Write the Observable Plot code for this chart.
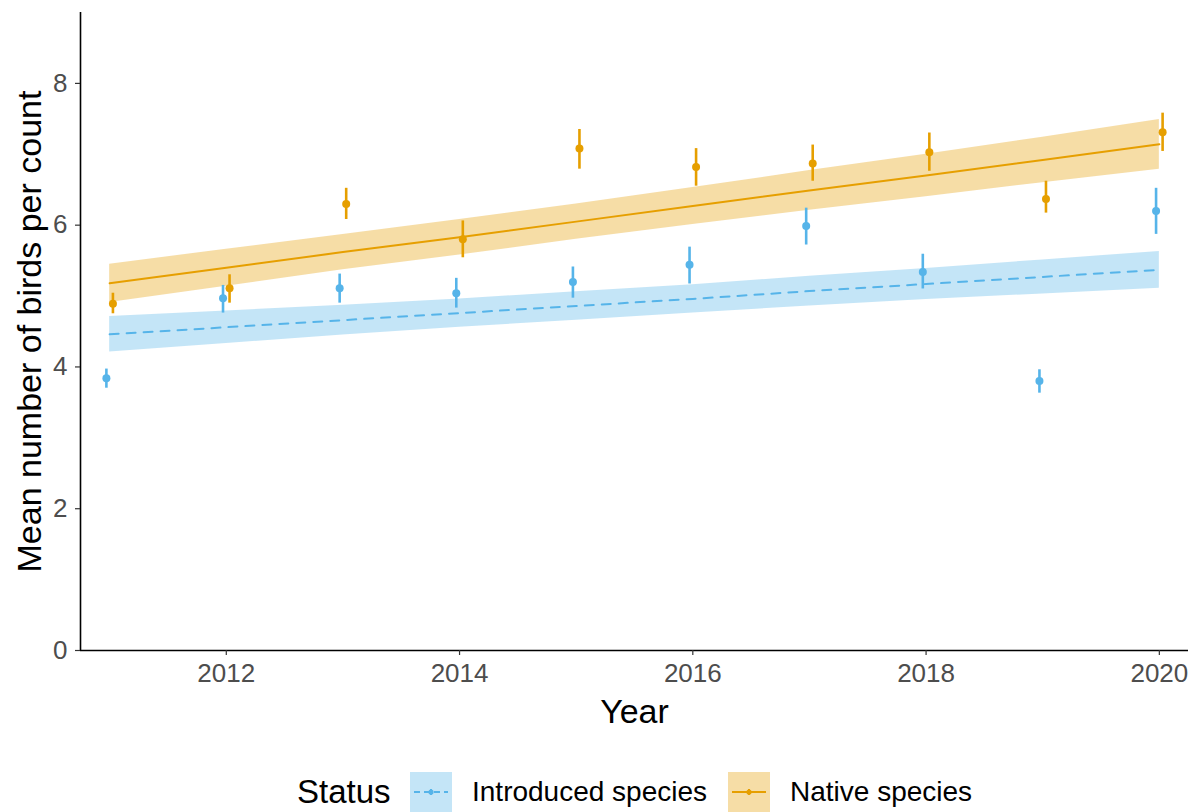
<!DOCTYPE html>
<html>
<head>
<meta charset="utf-8">
<script src="https://cdn.jsdelivr.net/npm/d3@7"></script>
<script src="https://cdn.jsdelivr.net/npm/@observablehq/plot@0.6"></script>
<style>
  html, body { margin: 0; padding: 0; background: #fff; }
  body { width: 1201px; height: 812px; overflow: hidden; font-family: "Liberation Sans", Arial, sans-serif; }
  #legend { position: relative; height: 40px; width: 1201px; }
  #legend .item { position: absolute; top: 0; height: 40px; display: flex; align-items: center; white-space: nowrap; color: #000; }
</style>
</head>
<body>
<div id="chart"></div>
<div id="legend"></div>
<script>
// ---- data ----
const years = [2011, 2012, 2013, 2014, 2015, 2016, 2017, 2018, 2019, 2020];

const introducedMean = [3.84, 4.97, 5.11, 5.04, 5.20, 5.44, 5.99, 5.34, 3.80, 6.20];
const introducedLow  = [3.70, 4.76, 4.90, 4.83, 4.97, 5.17, 5.72, 5.10, 3.63, 5.87];
const introducedHigh = [3.97, 5.15, 5.31, 5.25, 5.41, 5.69, 6.24, 5.59, 3.96, 6.52];

const nativeMean = [4.89, 5.11, 6.30, 5.80, 7.08, 6.82, 6.87, 7.03, 6.37, 7.31];
const nativeLow  = [4.75, 4.90, 6.08, 5.54, 6.79, 6.55, 6.62, 6.76, 6.17, 7.04];
const nativeHigh = [5.04, 5.30, 6.52, 6.06, 7.35, 7.08, 7.13, 7.30, 6.62, 7.58];

const introducedFit    = [4.46, 4.56, 4.66, 4.76, 4.86, 4.96, 5.07, 5.17, 5.27, 5.37];
const introducedFitLow = [4.21, 4.33, 4.45, 4.56, 4.66, 4.76, 4.86, 4.95, 5.03, 5.11];
const introducedFitHigh= [4.71, 4.79, 4.87, 4.96, 5.06, 5.16, 5.28, 5.39, 5.51, 5.63];

const nativeFit    = [5.18, 5.40, 5.62, 5.83, 6.05, 6.27, 6.49, 6.70, 6.92, 7.14];
const nativeFitLow = [4.91, 5.14, 5.37, 5.58, 5.80, 6.01, 6.21, 6.40, 6.60, 6.79];
const nativeFitHigh= [5.45, 5.66, 5.87, 6.08, 6.30, 6.53, 6.77, 7.00, 7.24, 7.49];

const statuses = ["Introduced species", "Native species"];
const colors = ["#56B4E9", "#E69F00"];
const xTicks = [2012, 2014, 2016, 2018, 2020];
const yTicks = [0, 2, 4, 6, 8];

// ---- tables ----
const dodge = {"Introduced species": -0.028, "Native species": 0.028};
const points = [];
const fits = [];
years.forEach((yr, i) => {
  points.push({status: statuses[0], year: yr, xd: yr + dodge[statuses[0]], mean: introducedMean[i], lo: introducedLow[i], hi: introducedHigh[i]});
  points.push({status: statuses[1], year: yr, xd: yr + dodge[statuses[1]], mean: nativeMean[i], lo: nativeLow[i], hi: nativeHigh[i]});
  fits.push({status: statuses[0], year: yr, fit: introducedFit[i], lo: introducedFitLow[i], hi: introducedFitHigh[i]});
  fits.push({status: statuses[1], year: yr, fit: nativeFit[i], lo: nativeFitLow[i], hi: nativeFitHigh[i]});
});
const fitsIntro = fits.filter(d => d.status === statuses[0]);
const fitsNative = fits.filter(d => d.status === statuses[1]);

const xDomain = [2010.75, 2020.25];
const yDomain = [0, 9];
const font = '"Liberation Sans", Arial, sans-serif';

const plot = Plot.plot({
  width: 1201,
  height: 772,
  marginLeft: 80,
  marginRight: 13,
  marginTop: 12,
  marginBottom: 122,
  style: {fontFamily: font, background: "#fff", overflow: "visible"},
  x: {domain: xDomain, label: null},
  y: {domain: yDomain, label: null},
  color: {domain: statuses, range: colors},
  marks: [
    Plot.areaY(fitsIntro, {x: "year", y1: "lo", y2: "hi", fill: colors[0], fillOpacity: 0.35}),
    Plot.areaY(fitsNative, {x: "year", y1: "lo", y2: "hi", fill: colors[1], fillOpacity: 0.35}),
    Plot.lineY(fitsIntro, {x: "year", y: "fit", stroke: colors[0], strokeWidth: 2, strokeDasharray: "9,8"}),
    Plot.lineY(fitsNative, {x: "year", y: "fit", stroke: colors[1], strokeWidth: 2}),
    Plot.ruleX(points, {x: "xd", y1: "lo", y2: "hi", stroke: "status", strokeWidth: 2.6}),
    Plot.dot(points, {x: "xd", y: "mean", fill: "status", r: 4, stroke: null}),
    Plot.ruleY([yDomain[0]], {stroke: "#000", strokeWidth: 1.6}),
    Plot.ruleX([xDomain[0]], {stroke: "#000", strokeWidth: 1.6}),
    Plot.axisX({ticks: xTicks, tickFormat: d => String(d), tickSize: 5, tickPadding: 8, fontSize: 26, color: "#4D4D4D", stroke: "#333", strokeWidth: 1.2, label: null}),
    Plot.axisY({ticks: yTicks, tickSize: 5, tickPadding: 8, fontSize: 26, color: "#4D4D4D", stroke: "#333", strokeWidth: 1.2, label: null}),
    Plot.text(["Year"], {frameAnchor: "bottom", dy: 72, fontSize: 34, fill: "#000", fontFamily: font}),
    Plot.text(["Mean number of birds per count"], {frameAnchor: "left", dx: -50, rotate: -90, textAnchor: "middle", fontSize: 34, fill: "#000", fontFamily: font})
  ]
});
document.getElementById("chart").appendChild(plot);

// ---- legend ----
const legend = document.getElementById("legend");
function addItem(left, html) {
  const el = document.createElement("div");
  el.className = "item";
  el.style.left = left + "px";
  el.innerHTML = html;
  legend.appendChild(el);
}
function keySvg(color, dashed) {
  return `<svg width="42" height="40" style="display:block">
    <rect x="0" y="0" width="42" height="40" fill="${color}" fill-opacity="0.35"></rect>
    <line x1="4" x2="38" y1="20" y2="20" stroke="${color}" stroke-width="2" ${dashed ? 'stroke-dasharray="6,4"' : ''}></line>
    <line x1="21" x2="21" y1="17" y2="23" stroke="${color}" stroke-width="2"></line>
    <circle cx="21" cy="20" r="2.6" fill="${color}"></circle>
  </svg>`;
}
addItem(297, '<span style="font-size:33px">Status</span>');
addItem(410, keySvg(colors[0], true));
addItem(472, `<span style="font-size:28px">${statuses[0]}</span>`);
addItem(728, keySvg(colors[1], false));
addItem(790, `<span style="font-size:28px">${statuses[1]}</span>`);
</script>
</body>
</html>
